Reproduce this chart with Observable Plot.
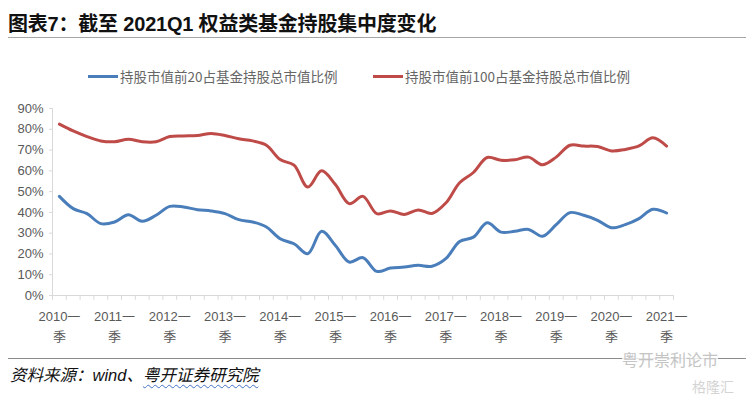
<!DOCTYPE html>
<html><head><meta charset="utf-8">
<script src="https://cdn.jsdelivr.net/npm/d3@7"></script>
<script src="https://cdn.jsdelivr.net/npm/@observablehq/plot@0.6"></script>
<style>
html,body{margin:0;padding:0;background:#fff;}
#wrap{position:relative;width:754px;height:398px;overflow:hidden;font-family:"Liberation Sans","Noto Sans CJK SC",sans-serif;}
#title{position:absolute;left:8px;top:8px;font-size:20px;font-weight:bold;color:#111;white-space:nowrap;letter-spacing:-0.2px;}
#tline{position:absolute;left:8px;right:8px;top:37px;height:0;border-top:1.5px solid #a6a6a6;}
#legend{position:absolute;top:66px;left:0;width:754px;height:20px;font-family:"Noto Sans CJK SC",sans-serif;font-size:13.5px;color:#666;}
.li{position:absolute;top:0;display:flex;align-items:center;white-space:nowrap;height:20px;}
.sw{display:inline-block;width:30px;height:3px;margin-right:2px;}
#chart{position:absolute;left:0;top:90px;}
#bline{position:absolute;left:8px;right:8px;top:358px;border-top:1px solid #8c8c8c;}
#source{position:absolute;left:10px;top:362px;font-size:16.5px;font-style:italic;color:#111;white-space:nowrap;font-family:"Liberation Sans","Noto Sans CJK SC",sans-serif;}
#source .w{text-decoration:underline wavy #4472c4;text-decoration-thickness:1px;text-underline-offset:3px;}
#wm{position:absolute;left:622px;top:351px;font-family:"Noto Sans CJK SC",sans-serif;font-size:16px;line-height:17px;color:#c4c4c4;white-space:nowrap;background:rgba(255,255,255,0.8);}
#wm2{position:absolute;left:692px;top:379px;font-family:"Noto Sans CJK SC",sans-serif;font-size:14px;line-height:15px;color:#d4d4d4;white-space:nowrap;}
</style></head>
<body>
<div id="wrap">
  <div id="title">图表7：截至 2021Q1 权益类基金持股集中度变化</div>
  <div id="tline"></div>
  <div id="legend"></div>
  <div id="chart"></div>
  <div id="bline"></div>
  <div id="source">资料来源：wind、<span class="w">粤开证券研究院</span></div>
  <div id="wm">粤开崇利论市</div>
  <div id="wm2">格隆汇</div>
</div>
<script>
// Series names
const seriesNames = ["持股市值前20占基金持股总市值比例", "持股市值前100占基金持股总市值比例"];
const seriesColors = ["#4a7ebb", "#be4b48"];

// Years (one label per first quarter)
const years = ["2010","2011","2012","2013","2014","2015","2016","2017","2018","2019","2020","2021"];
const xTickLabels = years.map(y => y + "一\n季");

// Quarterly values 2010Q1 .. 2021Q1 (45 quarters), in %
const top20 = [
  47.7, 41.8, 39.4, 34.6, 35.4, 38.9, 35.7, 38.6,
  42.9, 42.6, 41.3, 40.7, 39.4, 36.5, 35.4, 33.0,
  27.3, 24.9, 20.1, 30.9, 24.1, 16.1, 18.2, 11.6,
  13.2, 13.7, 14.5, 14.1, 17.7, 26.0, 28.1, 35.0,
  30.5, 30.9, 31.8, 28.5, 34.1, 39.9, 38.6, 36.2,
  32.6, 34.1, 37.0, 41.5, 39.7
];
const top100 = [
  82.5, 79.2, 76.5, 74.4, 74.0, 75.2, 74.0, 74.0,
  76.5, 76.8, 77.0, 78.0, 77.0, 75.4, 74.4, 72.3,
  65.4, 62.7, 52.2, 60.0, 53.4, 44.2, 47.7, 39.4,
  40.7, 39.0, 41.2, 39.5, 44.5, 54.3, 59.2, 66.4,
  65.1, 65.3, 66.6, 62.9, 66.6, 72.3, 71.9, 71.7,
  69.6, 70.3, 72.0, 75.9, 71.9
];
const yTicks = [0, 10, 20, 30, 40, 50, 60, 70, 80, 90];

// legend
const legend = document.getElementById("legend");
const legendX = [88, 373];
seriesNames.forEach((n, k) => {
  const d = document.createElement("div");
  d.className = "li";
  d.style.left = legendX[k] + "px";
  d.innerHTML = `<span class="sw" style="background:${seriesColors[k]}"></span><span>${n}</span>`;
  legend.appendChild(d);
});

const n = top20.length;
const idx = d3.range(n);
const boundaries = d3.range(-0.5, n, 1);
const labelIdx = years.map((y, i) => i * 4);

const axisColor = "#d9d9d9";
const labelColor = "#595959";

const chart = Plot.plot({
  width: 754,
  height: 265,
  marginLeft: 52,
  marginRight: 81,
  marginTop: 18,
  marginBottom: 60,
  style: {background: "transparent", fontFamily: "'Liberation Sans','Noto Sans CJK SC',sans-serif"},
  x: {domain: [-0.5, n - 0.5], axis: null},
  y: {domain: [0, 90], axis: null},
  marks: [
    Plot.ruleX([-0.5], {stroke: axisColor, strokeWidth: 1}),
    Plot.ruleY([0], {stroke: axisColor, strokeWidth: 1}),
    Plot.ruleY(yTicks, {y: d => d, x1: -0.5 - 0.22, x2: -0.5, stroke: axisColor}),
    Plot.ruleX(boundaries, {x: d => d, y1: 0, y2: -2.3, stroke: axisColor}),
    Plot.text(yTicks, {x: -0.5, y: d => d, text: d => d + "%", textAnchor: "end", dx: -9, fill: labelColor, fontSize: 13}),
    Plot.text(labelIdx, {x: d => d, y: 0, text: (d, i) => xTickLabels[i], lineAnchor: "top", dy: 11, lineHeight: 1.55, fill: labelColor, fontSize: 13}),
    Plot.line(top20, {x: (d, i) => idx[i], y: d => d, stroke: seriesColors[0], strokeWidth: 3, curve: "catmull-rom"}),
    Plot.line(top100, {x: (d, i) => idx[i], y: d => d, stroke: seriesColors[1], strokeWidth: 3, curve: "catmull-rom"})
  ]
});
document.getElementById("chart").appendChild(chart);
</script>
</body></html>
